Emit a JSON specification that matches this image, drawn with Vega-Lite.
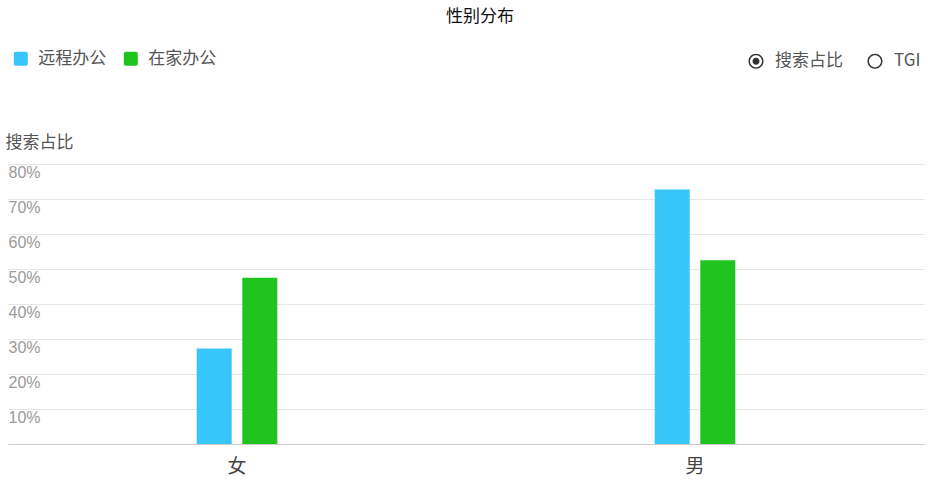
{
  "$schema": "https://vega.github.io/schema/vega-lite/v6.json",
  "width": 916,
  "height": 280,
  "autosize": {"type": "none"},
  "padding": {"left": 8, "top": 164, "right": 19, "bottom": 37},
  "background": "white",
  "config": {
    "font": "Liberation Sans, Noto Sans CJK SC",
    "view": {"stroke": null}
  },
  "title": {
    "text": "性别分布",
    "anchor": "middle",
    "frame": "group",
    "dx": 14,
    "fontSize": 17,
    "fontWeight": "normal",
    "color": "#111111",
    "font": "Noto Sans CJK SC",
    "offset": 24
  },
  "layer": [
    {
      "data": {
        "values": [
          {"gender": "女", "type": "远程办公", "value": 0.273},
          {"gender": "女", "type": "在家办公", "value": 0.475},
          {"gender": "男", "type": "远程办公", "value": 0.727},
          {"gender": "男", "type": "在家办公", "value": 0.525}
        ]
      },
      "mark": {"type": "bar"},
      "encoding": {
        "x": {
          "field": "gender",
          "type": "nominal",
          "sort": ["女", "男"],
          "scale": {"paddingInner": 0.824, "paddingOuter": 0.412},
          "axis": {
            "title": null,
            "labelAngle": 0,
            "ticks": false,
            "labelFontSize": 19,
            "labelColor": "#444444",
            "labelFont": "Noto Sans CJK SC",
            "labelPadding": 13,
            "domainColor": "#cccccc",
            "domainWidth": 1
          }
        },
        "xOffset": {
          "field": "type",
          "type": "nominal",
          "sort": ["远程办公", "在家办公"],
          "scale": {"paddingInner": 0.2325, "paddingOuter": 0}
        },
        "y": {
          "field": "value",
          "type": "quantitative",
          "scale": {"domain": [0, 0.8], "nice": false},
          "axis": {
            "values": [0, 0.1, 0.2, 0.3, 0.4, 0.5, 0.6, 0.7, 0.8],
            "format": ".0%",
            "labelExpr": "datum.value == 0 ? '' : datum.label",
            "labelAlign": "left",
            "labelBaseline": "top",
            "labelPadding": 0,
            "labelOffset": 0,
            "labelFontSize": 16,
            "labelColor": "#9a9a9a",
            "ticks": false,
            "domain": false,
            "gridColor": "#e6e6e6",
            "gridWidth": 1,
            "title": "搜索占比",
            "titleAngle": 0,
            "titleAlign": "left",
            "titleBaseline": "middle",
            "titleX": -3,
            "titleY": -22,
            "titleFontSize": 17,
            "titleFontWeight": "normal",
            "titleColor": "#555555",
            "titleFont": "Noto Sans CJK SC"
          }
        },
        "color": {
          "field": "type",
          "type": "nominal",
          "sort": ["远程办公", "在家办公"],
          "scale": {"domain": ["远程办公", "在家办公"], "range": ["#36C6F9", "#20C41E"]},
          "legend": {
            "title": null,
            "orient": "none",
            "direction": "horizontal",
            "legendX": 4.3,
            "legendY": -114,
            "symbolType": "M-0.7,-1H0.7Q1,-1 1,-0.7V0.7Q1,1 0.7,1H-0.7Q-1,1 -1,0.7V-0.7Q-1,-1 -0.7,-1Z",
            "symbolSize": 196,
            "symbolStrokeWidth": 0,
            "labelFontSize": 17,
            "labelColor": "#555555",
            "labelFont": "Noto Sans CJK SC",
            "labelOffset": 9,
            "columnPadding": 16
          }
        }
      }
    },
    {
      "data": {
        "values": [
          {"mode": "搜索占比"},
          {"mode": "TGI"}
        ]
      },
      "mark": {"type": "point", "filled": true, "opacity": 0, "color": "#333333"},
      "encoding": {
        "shape": {
          "field": "mode",
          "type": "nominal",
          "sort": ["搜索占比", "TGI"],
          "scale": {
            "domain": ["搜索占比", "TGI"],
            "range": [
              "M1,0A1,1 0 1,1 -1,0A1,1 0 1,1 1,0ZM0.8,0A0.8,0.8 0 1,0 -0.8,0A0.8,0.8 0 1,0 0.8,0ZM0.47,0A0.47,0.47 0 1,1 -0.47,0A0.47,0.47 0 1,1 0.47,0Z",
              "M1,0A1,1 0 1,1 -1,0A1,1 0 1,1 1,0ZM0.8,0A0.8,0.8 0 1,0 -0.8,0A0.8,0.8 0 1,0 0.8,0Z"
            ]
          },
          "legend": {
            "title": null,
            "orient": "none",
            "direction": "horizontal",
            "legendX": 739.5,
            "legendY": -111.5,
            "symbolSize": 225,
            "symbolOpacity": 1,
            "symbolFillColor": "#333333",
            "symbolStrokeWidth": 0,
            "labelFontSize": 17,
            "labelColor": "#555555",
            "labelFont": "Noto Sans CJK SC",
            "labelOffset": 10.5,
            "columnPadding": 23,
            "encode": {"symbols": {"update": {"opacity": {"value": 1}, "fill": {"value": "#333333"}}}}
          }
        }
      }
    }
  ]
}
